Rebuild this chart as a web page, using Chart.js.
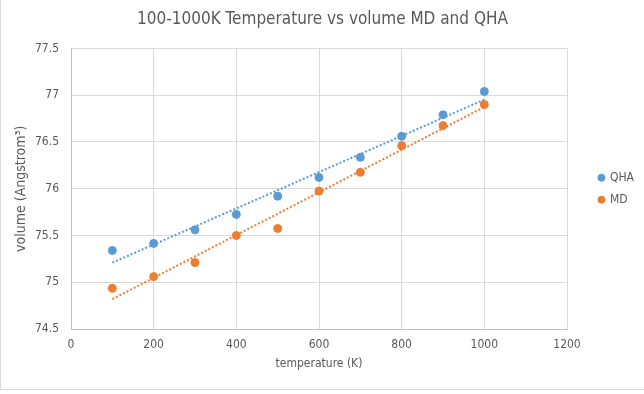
<!DOCTYPE html>
<html>
<head>
<meta charset="utf-8">
<script src="https://cdn.jsdelivr.net/npm/chart.js@4.4.1/dist/chart.umd.min.js"></script>
<style>
  html, body { margin: 0; padding: 0; background: #fff; }
  #wrap {
    position: absolute; left: 0; top: 0;
    width: 643px; height: 389px;
    border-left: 1px solid #d9d9d9;
    border-bottom: 1px solid #d9d9d9;
  }
</style>
</head>
<body>
<div id="wrap"><canvas id="myChart" width="643" height="389"></canvas></div>
<script>
// temperature (K)
const temps = [100, 200, 300, 400, 500, 600, 700, 800, 900, 1000];
// volume values
const qhaVol = [75.34, 75.415, 75.56, 75.725, 75.92, 76.12, 76.335, 76.56, 76.79, 77.04];
const mdVol = [74.935, 75.06, 75.21, 75.50, 75.575, 75.975, 76.175, 76.46, 76.675, 76.90];
const xTicks = [0, 200, 400, 600, 800, 1000, 1200];
const yTicks = [74.5, 75, 75.5, 76, 76.5, 77, 77.5];

const blue = "#5b9bd5";
const orange = "#ed7d31";
const grey = "#595959";
const font = "'Liberation Sans Narrow', 'DejaVu Sans Condensed', sans-serif";

// least squares line, like Excel's linear trendline
const fitLine = (xs, ys) => {
    const n = xs.length;
    const mx = xs.reduce((a, b) => a + b, 0) / n;
    const my = ys.reduce((a, b) => a + b, 0) / n;
    let sxy = 0, sxx = 0;
    xs.forEach((x, i) => {
        sxy += (x - mx) * (ys[i] - my);
        sxx += (x - mx) * (x - mx);
    });
    const m = sxy / sxx;
    const b = my - m * mx;
    const x0 = xs[0], x1 = xs[n - 1];
    return [{ x: x0, y: m * x0 + b }, { x: x1, y: m * x1 + b }];
};

const toPoints = (xs, ys) => xs.map((x, i) => ({ x: x, y: ys[i] }));

const ctx = document.getElementById("myChart").getContext('2d');

const myChart = new Chart(ctx, {
    type: "scatter",
    data: {
        datasets: [
            {
                label: "QHA",
                data: toPoints(temps, qhaVol),
                backgroundColor: blue,
                borderColor: blue,
                pointRadius: 4,
                pointHoverRadius: 4,
                order: 1,
            },
            {
                label: "MD",
                data: toPoints(temps, mdVol),
                backgroundColor: orange,
                borderColor: orange,
                pointRadius: 4,
                pointHoverRadius: 4,
                order: 1,
            },
            {
                label: "trend QHA",
                type: "line",
                data: fitLine(temps, qhaVol),
                borderColor: blue,
                borderWidth: 2,
                borderDash: [2, 2],
                pointRadius: 0,
                fill: false,
                order: 2,
            },
            {
                label: "trend MD",
                type: "line",
                data: fitLine(temps, mdVol),
                borderColor: orange,
                borderWidth: 2,
                borderDash: [2, 2],
                pointRadius: 0,
                fill: false,
                order: 2,
            },
        ],
    },
    options: {
        responsive: false,
        animation: false,
        events: [],
        layout: { padding: { left: 0, right: 0, top: 0, bottom: 10 } },
        plugins: {
            title: {
                display: true,
                text: "100-1000K Temperature vs volume MD and QHA",
                color: grey,
                font: { family: font, size: 17, weight: "normal" },
                padding: { top: 9, bottom: 19 },
            },
            legend: {
                position: "right",
                fullSize: false,
                labels: {
                    usePointStyle: true,
                    pointStyle: "circle",
                    boxWidth: 5,
                    boxHeight: 5,
                    color: grey,
                    padding: 10,
                    font: { family: font, size: 12 },
                    filter: (item) => item.text.indexOf("trend") < 0,
                },
            },
            tooltip: { enabled: false },
        },
        scales: {
            x: {
                type: "linear",
                min: 0,
                max: 1200,
                afterBuildTicks: (s) => { s.ticks = xTicks.map(v => ({ value: v })); },
                afterFit: (s) => { s.height = 50; },
                grid: { color: "#d9d9d9", drawTicks: false },
                border: { color: "#bfbfbf" },
                ticks: {
                    color: grey,
                    padding: 9,
                    font: { family: font, size: 12 },
                    callback: (v) => String(v),
                },
                title: {
                    display: true,
                    text: "temperature (K)",
                    color: grey,
                    font: { family: font, size: 12 },
                    padding: { top: 0, bottom: 8 },
                },
            },
            y: {
                type: "linear",
                min: 74.5,
                max: 77.5,
                afterBuildTicks: (s) => { s.ticks = yTicks.map(v => ({ value: v })); },
                afterFit: (s) => { s.width = 70; },
                grid: { color: "#d9d9d9", drawTicks: false },
                border: { color: "#bfbfbf" },
                ticks: {
                    color: grey,
                    padding: 12,
                    font: { family: font, size: 12 },
                    callback: (v) => String(v),
                },
                title: {
                    display: true,
                    text: "volume (Angstrom³)",
                    color: grey,
                    font: { family: font, size: 14 },
                    padding: { top: 12, bottom: 0 },
                },
            },
            pad: {
                type: "linear",
                position: "right",
                display: true,
                grid: { display: false },
                border: { display: false },
                ticks: { display: false },
                afterFit: (s) => { s.width = 22; },
            },
        },
    },
});
</script>
</body>
</html>
